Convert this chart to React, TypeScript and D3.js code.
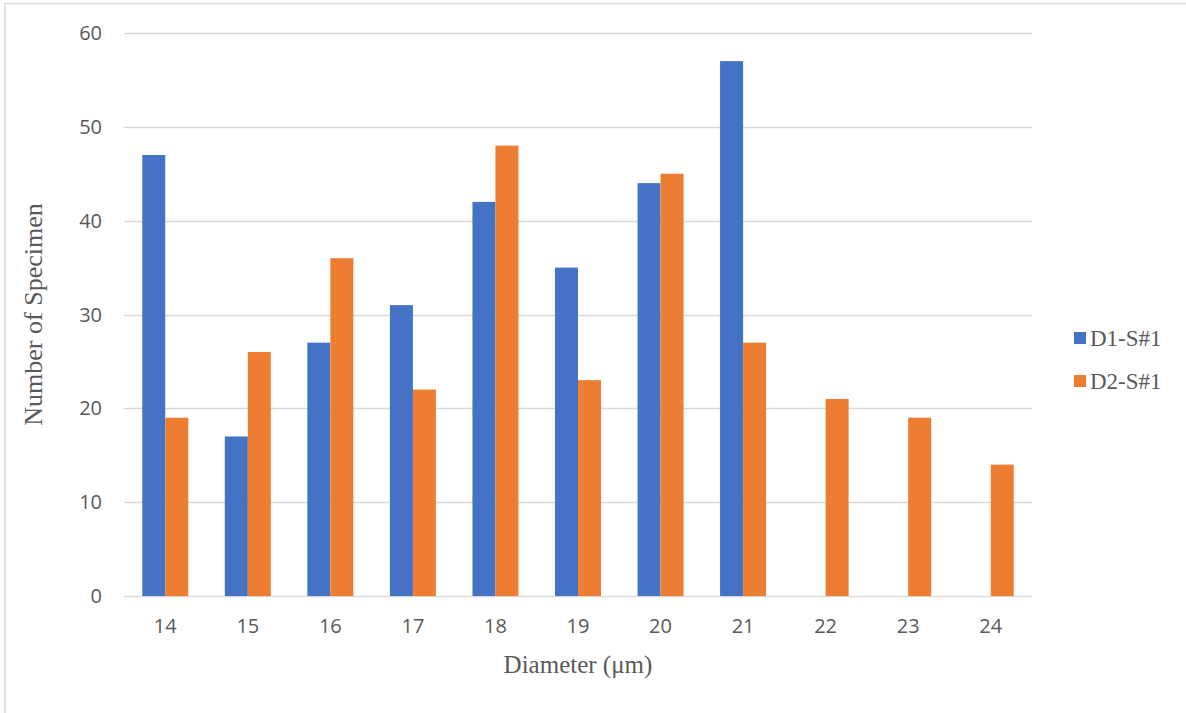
import React from "react";
import * as d3 from "d3";

// Fibre diameter histogram for two samples
const diameters = ["14", "15", "16", "17", "18", "19", "20", "21", "22", "23", "24"];
const seriesNames = ["D1-S#1", "D2-S#1"];
const d1Counts = [47, 17, 27, 31, 42, 35, 44, 57, 0, 0, 0];
const d2Counts = [19, 26, 36, 22, 48, 23, 45, 27, 21, 19, 14];
const yTicks = [0, 10, 20, 30, 40, 50, 60];

const colors = ["#4472C4", "#ED7D31"];
const textColor = "#595959";
const gridColor = "#D9D9D9";
const tickFont = "'Open Sans', 'Liberation Sans', sans-serif";
const titleFont = "'Liberation Serif', 'Times New Roman', serif";

export default function App() {
  const width = 1186;
  const height = 713;
  const plot = { left: 124, right: 1032, top: 33, bottom: 596 };

  const x = d3
    .scaleBand<string>()
    .domain(diameters)
    .range([plot.left, plot.right])
    .paddingInner(0)
    .paddingOuter(0);

  const barW = 23;
  const xSub = d3
    .scaleBand<string>()
    .domain(seriesNames)
    .range([x.bandwidth() / 2 - barW, x.bandwidth() / 2 + barW]);

  const y = d3.scaleLinear().domain([0, 60]).range([plot.bottom, plot.top]);

  const series = [d1Counts, d2Counts];

  return (
    <svg
      width={width}
      height={height}
      style={{ position: "absolute", left: 0, top: 0, background: "#fff" }}
    >
      {/* outer chart frame */}
      <rect x={5} y={3.5} width={width + 10} height={height + 10} fill="#fff" stroke={gridColor} strokeWidth={1.5} />

      {/* horizontal gridlines */}
      {yTicks.map((t) => (
        <line
          key={t}
          x1={plot.left}
          x2={plot.right}
          y1={Math.round(y(t)) + 0.5}
          y2={Math.round(y(t)) + 0.5}
          stroke={gridColor}
          strokeWidth={1.3}
        />
      ))}

      {/* y tick labels */}
      {yTicks.map((t) => (
        <text
          key={"yl" + t}
          x={102}
          y={y(t)}
          dy="0.35em"
          textAnchor="end"
          fill={textColor}
          fontFamily={tickFont}
          fontSize={20}
        >
          {t}
        </text>
      ))}

      {/* bars */}
      {series.map((vals, si) =>
        vals.map((v, i) =>
          v > 0 ? (
            <rect
              key={si + "-" + i}
              x={(x(diameters[i]) ?? 0) + (xSub(seriesNames[si]) ?? 0)}
              y={y(v)}
              width={barW}
              height={y(0) - y(v)}
              fill={colors[si]}
            />
          ) : null
        )
      )}

      {/* x tick labels */}
      {diameters.map((d) => (
        <text
          key={"xl" + d}
          x={(x(d) ?? 0) + x.bandwidth() / 2}
          y={626}
          dy="0.35em"
          textAnchor="middle"
          fill={textColor}
          fontFamily={tickFont}
          fontSize={20}
        >
          {d}
        </text>
      ))}

      {/* axis titles */}
      <text
        x={(plot.left + plot.right) / 2}
        y={673}
        textAnchor="middle"
        fill={textColor}
        fontFamily={titleFont}
        fontSize={25}
      >
        Diameter (μm)
      </text>
      <text
        transform={`translate(42, ${(plot.top + plot.bottom) / 2}) rotate(-90)`}
        textAnchor="middle"
        fill={textColor}
        fontFamily={titleFont}
        fontSize={26}
      >
        Number of Specimen
      </text>

      {/* legend */}
      {seriesNames.map((name, i) => (
        <g key={name} transform={`translate(1074, ${338 + i * 43})`}>
          <rect x={0} y={-6} width={12} height={12} fill={colors[i]} />
          <text
            x={16}
            y={0}
            dy="0.35em"
            fill={textColor}
            fontFamily={titleFont}
            fontSize={23}
          >
            {name}
          </text>
        </g>
      ))}
    </svg>
  );
}
